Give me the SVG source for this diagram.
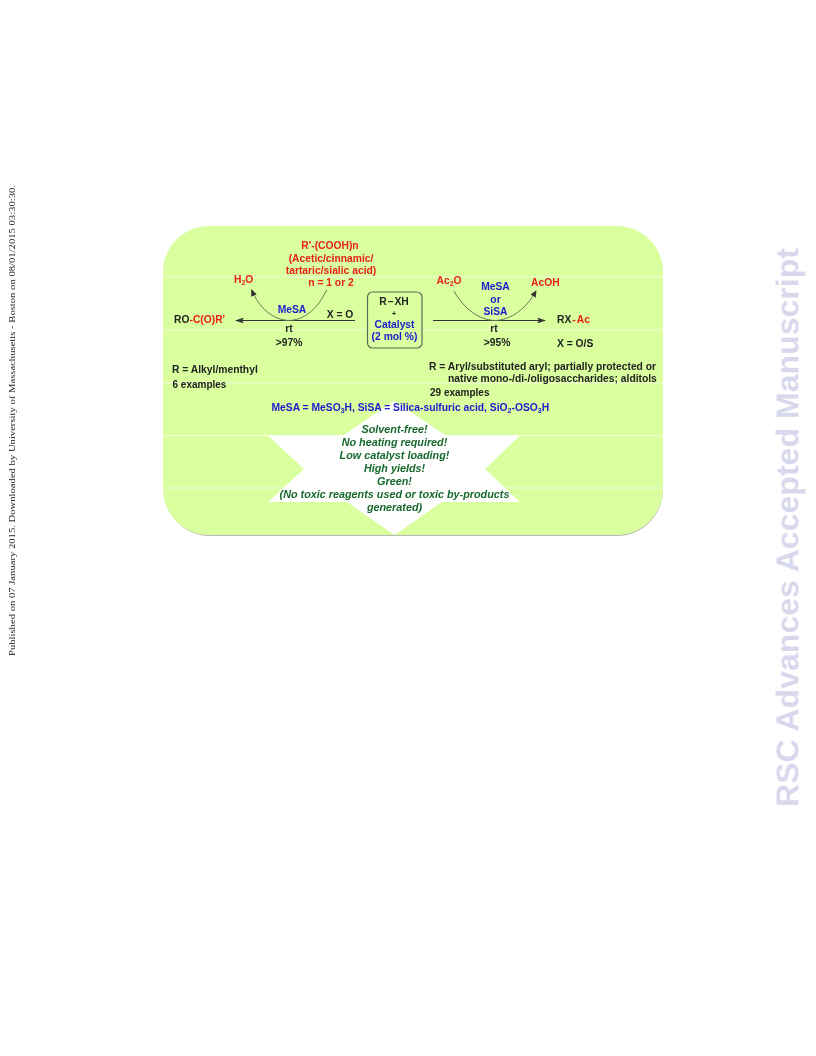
<svg xmlns="http://www.w3.org/2000/svg" width="816" height="1056" viewBox="0 0 816 1056">
<style>
text{font-family:"Liberation Sans",Arial,sans-serif;font-weight:bold;font-size:10.3px;fill:#222}
.r{fill:#e8201c}.b{fill:#1c1ccc}.c{text-anchor:middle}
.g{fill:#17692c;font-style:italic;font-size:10.8px;text-anchor:middle}
.s{font-size:7px}
.a{fill:none;stroke:#333;stroke-width:1.100}
.u{fill:none;stroke:#5f7a50;stroke-width:1}
.w{stroke:#fff;stroke-width:.7;opacity:.85}
.f{filter:url(#soft)}
</style>
<defs>
<filter id="soft" x="-5%" y="-5%" width="110%" height="110%"><feGaussianBlur stdDeviation="0.28"/></filter>
<filter id="sh" x="-5%" y="-5%" width="110%" height="110%"><feGaussianBlur stdDeviation="0.7"/></filter>
<marker id="h" markerWidth="9" markerHeight="6" refX="8" refY="3" orient="auto" markerUnits="userSpaceOnUse"><path d="M0 0L9 3L0 6L2 3Z" fill="#333"/></marker>
<marker id="h2" markerWidth="7" markerHeight="6" refX="6" refY="3" orient="auto" markerUnits="userSpaceOnUse"><path d="M0 0L7 3L0 6Z" fill="#333"/></marker>
</defs>
<rect width="816" height="1056" fill="#fff"/>
<text id="side-left" class="f" transform="translate(15 656) rotate(-90)" textLength="471" lengthAdjust="spacingAndGlyphs" style="font-family:'Liberation Serif',serif;font-weight:normal;font-size:8.9px;fill:#222">Published on 07 January 2015. Downloaded by University of Massachusetts - Boston on 08/01/2015 03:30:30.</text>
<text id="side-right" class="f" transform="translate(798.500 807) rotate(-90)" textLength="559" lengthAdjust="spacingAndGlyphs" style="font-size:32px;fill:#d8d8ec">RSC Advances Accepted Manuscript</text>
<g id="panel">
<rect x="164" y="228" width="499" height="308" rx="46" fill="#b8b8b8" filter="url(#sh)"/>
<rect x="163" y="226" width="500" height="309" rx="46" fill="#d9ff9f"/>
<path d="M394 401L343 435.500H268L304 469L268 502H347L394.500 535L442 502H520L485 469L520 435.500H446Z" fill="#fff"/>
<path class="w" d="M163 277H663M163 330H663M163 383H663M163 435.500H663M163 488H663"/>
</g>
<g id="connectors" class="f">
<path class="a" d="M355 320.500H236" marker-end="url(#h)"/>
<path class="a" d="M433 320.500H545" marker-end="url(#h)"/>
<path class="u" d="M326.700 290C318 308 305 320 289 320.500C273 320 259 308 251.700 290" marker-end="url(#h2)"/>
<path class="u" d="M454 291C464 309 479 320 495 320.500C511 320 526 309 536 291" marker-end="url(#h2)"/>
</g>
<g id="reagent-left" class="f">
<text class="r c" x="330" y="249">R'-(COOH)n</text>
<text class="r c" x="331" y="262">(Acetic/cinnamic/</text>
<text class="r c" x="331" y="274">tartaric/sialic acid)</text>
<text class="r c" x="331" y="286">n = 1 or 2</text>
<text class="r" x="234" y="283">H<tspan class="s" dy="2">2</tspan><tspan dy="-2">O</tspan></text>
<text class="b c" x="292" y="313">MeSA</text>
<text class="c" x="340" y="318">X = O</text>
<text x="174" y="323">RO<tspan class="r">-C(O)R'</tspan></text>
<text class="c" x="289" y="332">rt</text>
<text class="c" x="289" y="346">&gt;97%</text>
<text x="172" y="373">R = Alkyl/menthyl</text>
<text x="172.500" y="388" style="font-size:10px">6 examples</text>
</g>
<g id="center-box" class="f">
<rect x="367.500" y="292" width="54.500" height="56" rx="5" fill="#d9ff9f" stroke="#5d6b55" stroke-width="1.200"/>
<text class="c" x="394" y="305">R<tspan dx="1">–</tspan><tspan dx="1">XH</tspan></text>
<text class="c" x="394" y="316" style="font-size:7px">+</text>
<text class="b c" x="394.500" y="328">Catalyst</text>
<text class="b c" x="394.500" y="340">(2 mol %)</text>
</g>
<g id="reagent-right" class="f">
<text class="r" x="436.500" y="284">Ac<tspan class="s" dy="2">2</tspan><tspan dy="-2">O</tspan></text>
<text class="b c" x="495.500" y="290">MeSA</text>
<text class="b c" x="495.500" y="303">or</text>
<text class="b c" x="495.500" y="315">SiSA</text>
<text class="r" x="531" y="286">AcOH</text>
<text x="557" y="322.500">RX<tspan class="r" dx="1">-</tspan><tspan class="r" dx="1">Ac</tspan></text>
<text class="c" x="494" y="332">rt</text>
<text class="c" x="497" y="346">&gt;95%</text>
<text x="557" y="347">X = O/S</text>
<text x="429" y="369.500">R = Aryl/substituted aryl; partially protected or</text>
<text x="448" y="382">native mono-/di-/oligosaccharides; alditols</text>
<text x="430" y="396" style="font-size:10px">29 examples</text>
</g>
<g id="legend" class="f">
<text class="b" x="271.500" y="411">MeSA = MeSO<tspan class="s" dy="2">3</tspan><tspan dy="-2">H, SiSA = Silica-sulfuric acid, SiO</tspan><tspan class="s" dy="2">2</tspan><tspan dy="-2">-OSO</tspan><tspan class="s" dy="2">3</tspan><tspan dy="-2">H</tspan></text>
</g>
<g id="benefits" class="f">
<text class="g" x="394.500" y="433">Solvent-free!</text>
<text class="g" x="394.500" y="446">No heating required!</text>
<text class="g" x="394.500" y="459">Low catalyst loading!</text>
<text class="g" x="394.500" y="472">High yields!</text>
<text class="g" x="394.500" y="485">Green!</text>
<text class="g" x="394.500" y="498">(No toxic reagents used or toxic by-products</text>
<text class="g" x="394.500" y="511">generated)</text>
</g>
</svg>
